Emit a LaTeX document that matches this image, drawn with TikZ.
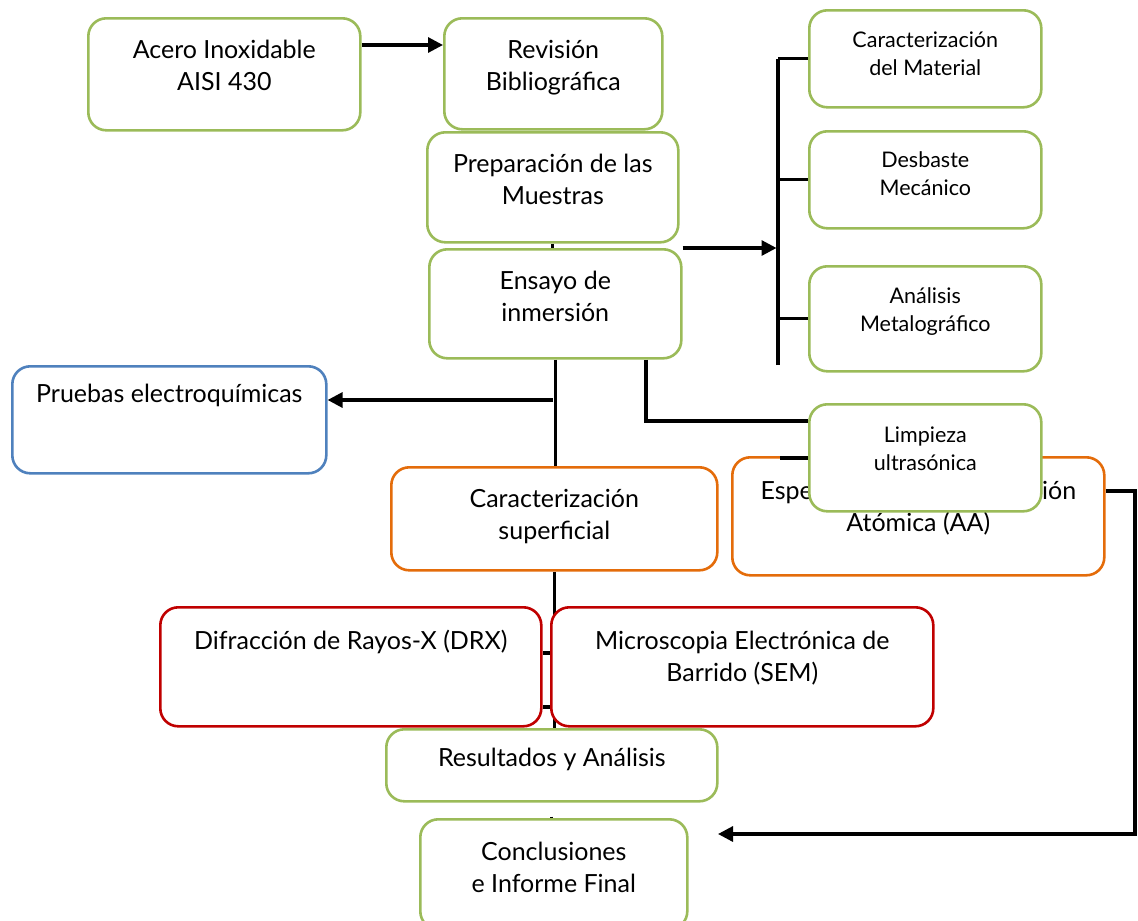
\documentclass[tikz,border=0pt]{standalone}
\usepackage{fontspec}
\setmainfont{Lato}
\usetikzlibrary{arrows.meta,backgrounds}
\definecolor{boxgreen}{HTML}{9BBB59}
\definecolor{boxblue}{HTML}{4F81BD}
\definecolor{boxorange}{HTML}{E46C0A}
\definecolor{boxred}{HTML}{C00000}
\tikzset{
  box/.style={draw=boxgreen, fill=white, line width=2.6pt, rounded corners=18pt,
    inner sep=0pt, align=flush center, anchor=north west, text height=40pt,
    font=\fontsize{25}{32}\selectfont},
  smallbox/.style={box, font=\fontsize{21.5}{28}\selectfont},
  link/.style={line width=3.2pt},
  arr/.style={link, -{Triangle[length=15pt,width=15pt]}},
}
\begin{document}
\begin{tikzpicture}[x=1pt,y=-1pt]
    \useasboundingbox (0,0) rectangle (1138,921);
    % main column
    \node[box, text width=272pt, text depth=72pt] (acero) at (87,17) {Acero Inoxidable\\AISI 430};
    \node[box, text width=218pt, text depth=71pt] (revision) at (443,17) {Revisión\\Bibliográfica};
    \node[box, text width=251pt, text depth=70pt] (prep) at (426,131) {Preparación de las\\Muestras};
    \node[box, text width=252pt, text depth=69pt] (ensayo) at (428,248) {Ensayo de\\inmersión};
    % right column
    \node[smallbox, text width=232pt, text height=37pt, text depth=60pt] (carmat) at (808,9) {Caracterización\\del Material};
    \node[smallbox, text width=232pt, text height=36pt, text depth=61pt] (desbaste) at (808,130) {Desbaste\\Mecánico};
    \node[smallbox, text width=232pt, text height=37pt, text depth=68pt] (metalo) at (808,265) {Análisis\\Metalográfico};
    % tests
    \node[box, draw=boxblue, text width=314pt, text height=36pt, text depth=71pt] (pruebas) at (11,365) {Pruebas electroquímicas};
    \node[box, draw=boxorange, text width=326pt, text depth=63pt] (carsup) at (390,466) {Caracterización\\superficial};
    \node[box, draw=boxorange, text width=372pt, text height=42pt, text depth=76pt] (espectro) at (731,456) {Espectroscopía de Absorción\\Atómica (AA)};
    \node[smallbox, text width=232pt, text height=38pt, text depth=69pt] (limpieza) at (808,403) {Limpieza\\ultrasónica};
    \node[box, draw=boxred, text width=381pt, text height=42pt, text depth=77pt] (drx) at (159,606) {Difracción de Rayos-X (DRX)};
    \node[box, draw=boxred, text width=382pt, text height=42pt, text depth=77pt] (sem) at (550,606) {Microscopia Electrónica de\\Barrido (SEM)};
    \node[box, text width=331pt, text height=37pt, text depth=35pt] (result) at (385,728) {Resultados y Análisis};
    \node[box, text width=267pt, text height=41pt, text depth=69pt] (concl) at (419,818) {Conclusiones\\e Informe Final};

    \begin{scope}[on background layer]
        \coordinate (a1) at (359,45);
        \draw[arr] (a1 -| acero.east) -- (a1 -| revision.west);
        % trunk
        \draw[link] (prep.south) -- (prep.south |- ensayo.north);
        \draw[link] (ensayo.south) -- (ensayo.south |- carsup.north);
        \draw[link] (carsup.south) -- (carsup.south |- result.north);
        \draw[link, shorten <=14pt] (result.south) -- (result.south |- concl.north);
        \coordinate (pb) at (553,400);
        \draw[arr] (pb) -- (pb -| pruebas.east);
        \foreach \yy in {653,707} {
            \coordinate (d) at (553,\yy);
            \draw[link] (d) -- (d -| drx.east);
        }
        % bar to the right column
        \coordinate (bar) at (778,365);
        \draw[link] (bar) -- (bar |- carmat.west);
        \foreach \n in {carmat,desbaste,metalo}
            \draw[link] (bar |- \n.west) -- (\n.west);
        \draw[arr, shorten >=1.5pt] (ensayo.north east) -- (ensayo.north east -| bar);
        % cleaning
        \coordinate (lp) at (646,421);
        \draw[link] (lp |- ensayo.south) -- (lp) -- (lp -| limpieza.west);
        % AA to conclusions
        \coordinate (rt) at (1135,491);
        \coordinate (rb) at (1135,834);
        \coordinate (ct) at (718,834);
        \draw[arr] (rt -| espectro.east) -- (rt) -- (rb) -- (ct);
    \end{scope}
    \coordinate (st) at (780,458);
    \draw[link] (st) -- (st -| limpieza.west);
\end{tikzpicture}
\end{document}
